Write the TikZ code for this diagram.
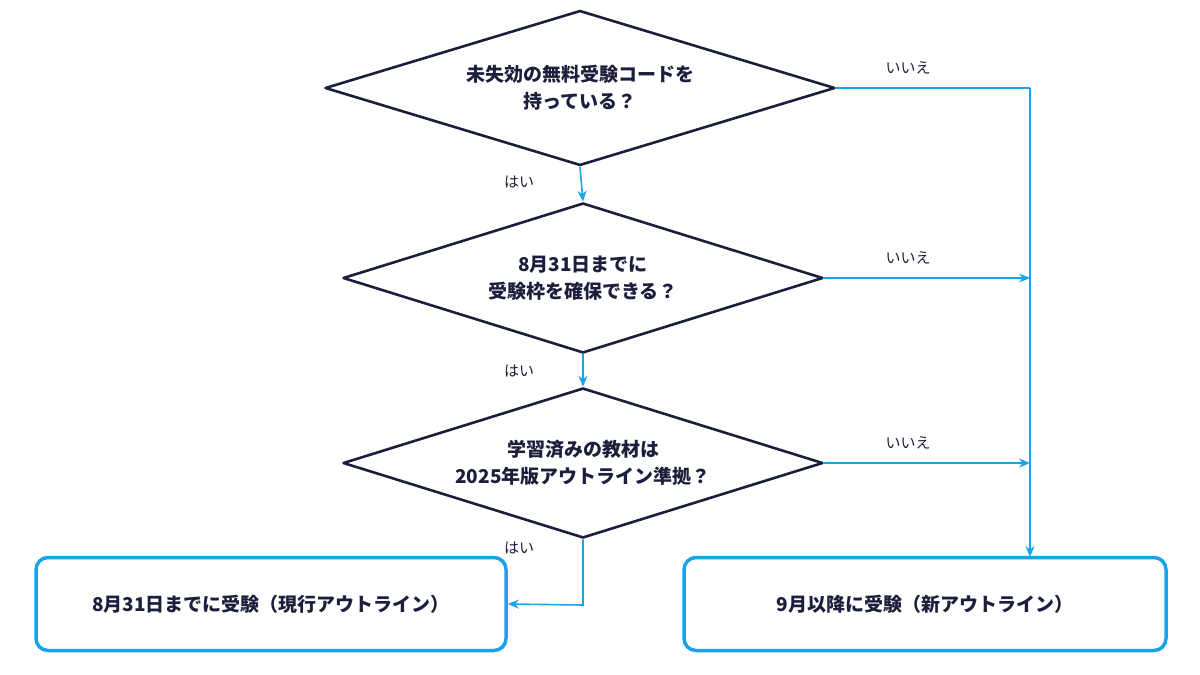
\documentclass[tikz,border=0pt]{standalone}
\usepackage{fontspec}
\setmainfont{Noto Sans CJK JP}
\usetikzlibrary{shapes.geometric,arrows.meta}
\definecolor{navy}{HTML}{1B1F3B}
\definecolor{sky}{HTML}{1AA3E8}
\begin{document}
\begin{tikzpicture}[x=1pt,y=-1pt,
  dia/.style={diamond,draw=navy,line width=2.6pt,inner sep=0pt,line join=round},
  txt/.style={text=navy,font=\fontsize{19}{27}\selectfont\bfseries,align=center},
  lab/.style={text=navy,font=\fontsize{15}{18}\selectfont},
  box/.style={draw=sky,line width=3.5pt,rounded corners=12pt,minimum height=93pt,text=navy,font=\fontsize{19}{24}\selectfont\bfseries},
  con/.style={draw=sky,line width=1.6pt,-{Stealth[length=11pt,width=9pt]}}]
\useasboundingbox (0,0) rectangle (1200,675);
\node[dia,minimum width=510pt,minimum height=155pt,shape aspect=3.29] (d1) at (580,88) {};
\node[txt] (t1) at (580,88) {未失効の無料受験コードを\\持っている？};
\node[dia,minimum width=480pt,minimum height=150pt,shape aspect=3.2] (d2) at (583,278) {};
\node[txt] (t2) at (583,278) {8月31日までに\\受験枠を確保できる？};
\node[dia,minimum width=480pt,minimum height=150pt,shape aspect=3.2] (d3) at (583,463) {};
\node[txt] (t3) at (583,463) {学習済みの教材は\\2025年版アウトライン準拠？};
\node[box,minimum width=470pt] (b1) at (271,604) {8月31日までに受験（現行アウトライン）};
\node[box,minimum width=482pt] (b2) at (925,604) {9月以降に受験（新アウトライン）};
\coordinate (c1) at (1030,88);
\coordinate (c2) at (1030,278);
\coordinate (c3) at (1030,463);
\coordinate (c4) at (1030,557);
\coordinate (c5) at (583,605);
\draw[sky,line width=1.6pt] (d1.east) -- (c1);
\draw[con] (c1) -- (c4);
\draw[con] (d2.east) -- (c2);
\draw[con] (d3.east) -- (c3);
\draw[con] (d1.south) -- (d2.north);
\draw[con] (d2.south) -- (d3.north);
\draw[con] (d3.south) -- (c5) -- (b1.east);
\node[lab] (n1) at (908,68) {いいえ};
\node[lab] (n2) at (908,258) {いいえ};
\node[lab] (n3) at (908,443) {いいえ};
\node[lab] (y1) at (519,182) {はい};
\node[lab] (y2) at (519,371) {はい};
\node[lab] (y3) at (519,548) {はい};
\end{tikzpicture}
\end{document}
